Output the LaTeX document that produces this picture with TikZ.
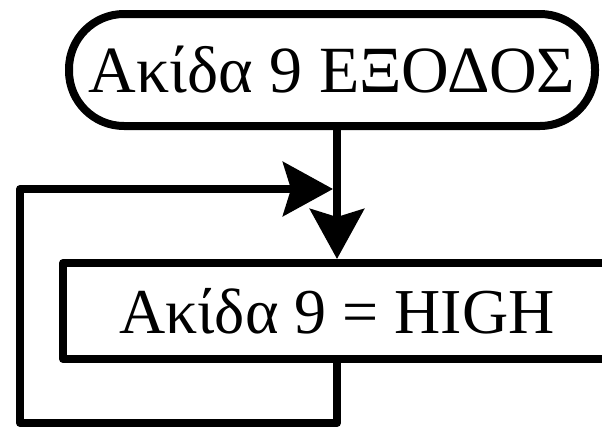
\documentclass[tikz,border=0pt]{standalone}
\usepackage{fontspec}
\setmainfont{Liberation Serif}
\usetikzlibrary{arrows.meta}
\begin{document}
\begin{tikzpicture}[x=1pt,y=-1pt,
  flowline/.style={line width=8pt,line join=round,line cap=round},
  bigtip/.style={-{Stealth[length=50pt,width=54pt,inset=8pt]}},
  terminal/.style={draw,line width=8pt,rounded corners=55pt,minimum width=526pt,minimum height=112pt,inner sep=0pt,
    font=\fontsize{66}{72}\selectfont},
  process/.style={draw,line width=8pt,line join=round,minimum width=548pt,minimum height=96pt,inner sep=0pt,
    font=\fontsize{64}{70}\selectfont}]
  \useasboundingbox (0,0) rectangle (602,429);
  \clip (0,0) rectangle (602,429);
  % start symbol and the action box
  \node[terminal] (start) at (332,70) {Ακίδα 9 ΕΞΟΔΟΣ};
  \node[process] (act) at (337,311) {Ακίδα 9 = HIGH};
  % main flow and the loop back into it
  \coordinate (merge) at (act.north |- 0,189);
  \coordinate (below) at (act.south |- 0,423);
  \coordinate (left) at (20,423);
  \draw[flowline,bigtip] (act.north |- start.south) -- (act.north);
  \draw[flowline,bigtip,shorten >=4pt] (act.south) -- (below) -- (left) -- (left |- merge) -- (merge);
\end{tikzpicture}
\end{document}
